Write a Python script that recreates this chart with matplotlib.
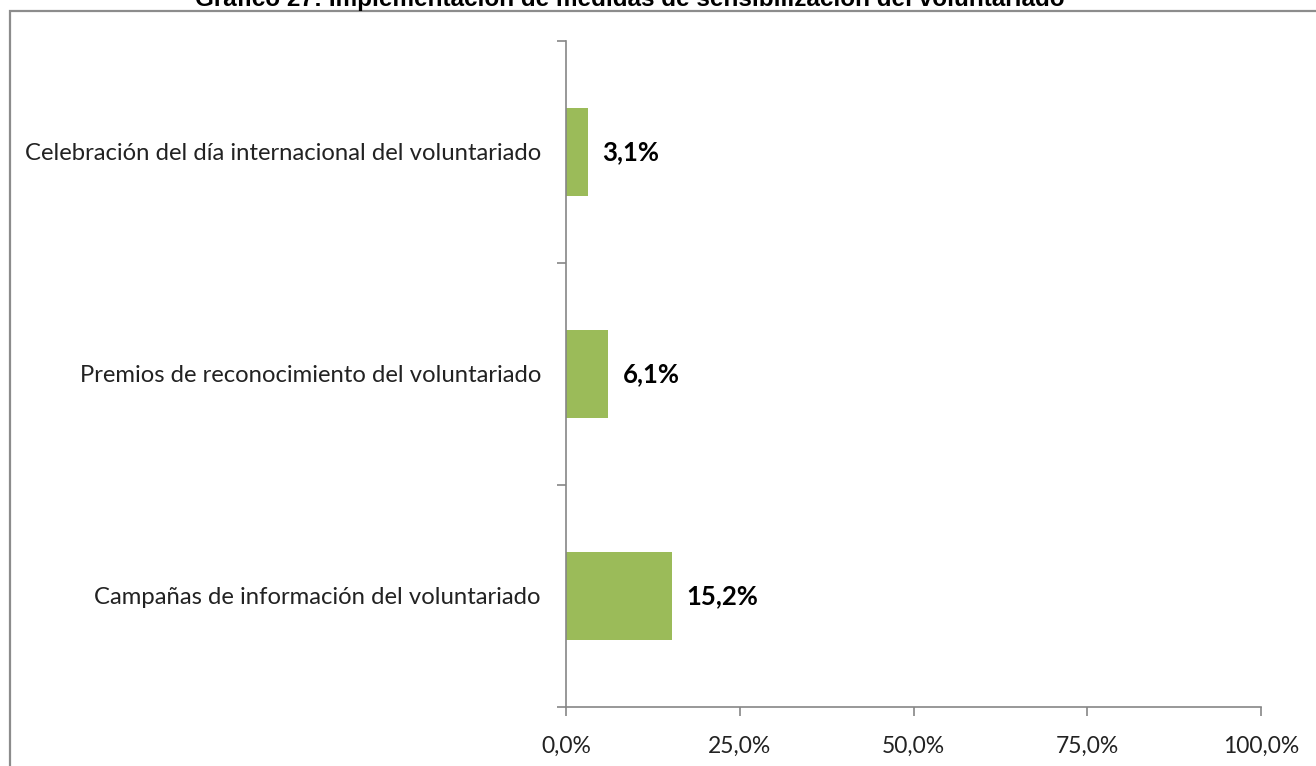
import matplotlib
matplotlib.use("Agg")
import matplotlib.pyplot as plt
from matplotlib.patches import Rectangle
from matplotlib.ticker import FixedLocator

title = "Gráfico 27: Implementación de medidas de sensibilización del voluntariado"
categories = ["Campañas de información del voluntariado",
              "Premios de reconocimiento del voluntariado",
              "Celebración del día internacional del voluntariado"]
values = [15.2, 6.1, 3.1]
value_labels = ["15,2%", "6,1%", "3,1%"]
xticks = [0, 25, 50, 75, 100]
xtick_labels = ["0,0%", "25,0%", "50,0%", "75,0%", "100,0%"]

W, H = 1316, 766
fig = plt.figure(figsize=(W / 100, H / 100), dpi=100)
fig.patch.set_facecolor("white")

# outer border (cut at right and bottom)
fig.add_artist(Rectangle((10 / W, -0.05), 1.2, 1 - 11 / H + 0.05,
                         transform=fig.transFigure, fill=False,
                         edgecolor="#8c8c8c", linewidth=1.6))

fig.text(630 / W, 1 - 6 / H, title, ha="center", va="baseline",
         fontsize=17.5, fontweight="bold", family="Liberation Sans", color="black")

ax = fig.add_axes([566 / W, 1 - 707 / H, (1261 - 566) / W, (707 - 41) / H])
y = list(range(len(categories)))
ax.barh(y, values, height=0.4, color="#9BBB59")
ax.set_xlim(0, 100)
ax.set_ylim(-0.5, len(categories) - 0.5)

for s in ["top", "right"]:
    ax.spines[s].set_visible(False)
for s in ["left", "bottom"]:
    ax.spines[s].set_color("#868686")
    ax.spines[s].set_linewidth(1.2)

ax.set_yticks(y)
ax.set_yticklabels(categories, family="Lato", fontsize=17.2, color="#222222")
ax.tick_params(axis="y", which="major", length=0, pad=18)
ax.yaxis.set_minor_locator(FixedLocator([i - 0.5 for i in range(len(categories) + 1)]))
ax.tick_params(axis="y", which="minor", length=6.5, width=1.2, color="#868686", direction="out")

ax.set_xticks(xticks)
ax.set_xticklabels(xtick_labels, family="Lato", fontsize=16.5, color="#222222")
ax.tick_params(axis="x", length=6.5, width=1.2, color="#868686", direction="out", pad=14)

for yi, v, lab in zip(y, values, value_labels):
    ax.annotate(lab, (v, yi), xytext=(10.5, 0), textcoords="offset points",
                ha="left", va="center", family="Lato", fontsize=18.5,
                fontweight="bold", color="black")

fig.savefig("out.png", dpi=100, facecolor="white")
